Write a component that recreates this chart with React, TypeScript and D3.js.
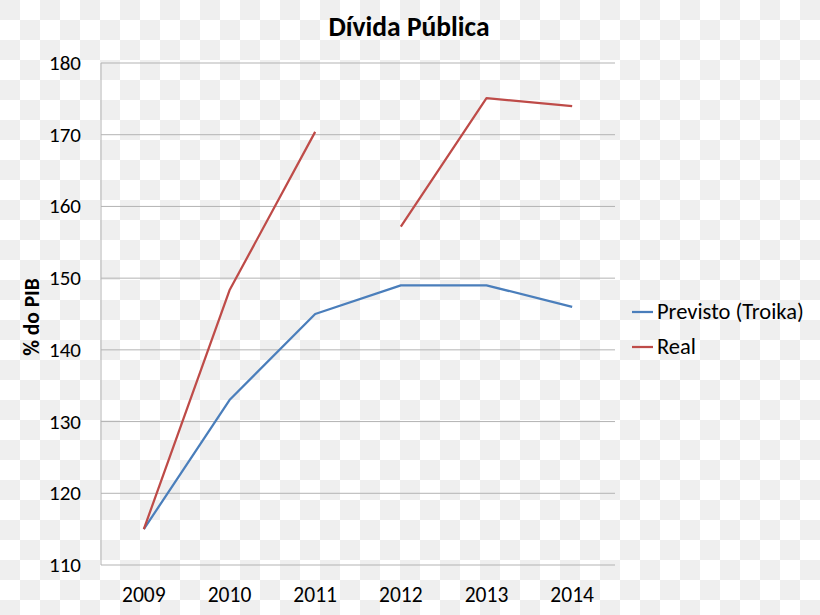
import * as d3 from 'd3';

const years = ['2009', '2010', '2011', '2012', '2013', '2014'];
const previsto = [115, 133, 145, 149, 149, 146];
const real = [115, 148.3, 170.4, 157.2, 175.1, 174];
// the Real line is broken between 2011 and 2012
const realSegments = [['2009', '2010', '2011'], ['2012', '2013', '2014']];
const yTicks = [110, 120, 130, 140, 150, 160, 170, 180];

const W = 820;
const H = 615;
const margin = { top: 63, right: 205, bottom: 50, left: 101 };
const FONT = 'Carlito, Lato, "Open Sans", sans-serif';

export default function App() {
  const x = d3.scaleBand().domain(years).range([margin.left, W - margin.right]);
  const y = d3.scaleLinear().domain([110, 180]).range([H - margin.bottom, margin.top]);
  const cx = (yr: string) => (x(yr) || 0) + x.bandwidth() / 2;

  const line = d3.line<[string, number]>()
    .x(d => cx(d[0]))
    .y(d => y(d[1]));

  const prevPts = years.map((yr, i) => [yr, previsto[i]] as [string, number]);
  const realPaths = realSegments.map(seg =>
    line(seg.map(yr => [yr, real[years.indexOf(yr)]] as [string, number])) || ''
  );

  const series = [
    { name: 'Previsto (Troika)', color: '#4a7ebb' },
    { name: 'Real', color: '#be4b48' },
  ];

  return (
    <svg width={W} height={H} style={{ position: 'absolute', left: 0, top: 0 }} fontFamily={FONT}>
      <defs>
        <pattern id="checker" width={40} height={40} patternUnits="userSpaceOnUse">
          <rect width={40} height={40} fill="#ffffff" />
          <rect width={20} height={20} fill="#efefef" />
          <rect x={20} y={20} width={20} height={20} fill="#efefef" />
        </pattern>
      </defs>
      <rect width={W} height={H} fill="url(#checker)" />

      <text x={409} y={36} textAnchor="middle" fontSize={27.5} fontWeight="bold" fill="#000">
        Dívida Pública
      </text>

      {yTicks.map(t => (
        <g key={t}>
          <line x1={margin.left} x2={W - margin.right} y1={y(t)} y2={y(t)} stroke="#b3b3b3" strokeWidth={1} />
          <text x={81} y={y(t) + 7} textAnchor="end" fontSize={21} fill="#000">{t}</text>
        </g>
      ))}
      <line x1={margin.left} x2={margin.left} y1={y(180)} y2={y(110)} stroke="#b3b3b3" strokeWidth={1} />

      {years.map(yr => (
        <text key={yr} x={cx(yr)} y={602} textAnchor="middle" fontSize={21.5} fill="#000">{yr}</text>
      ))}

      <text transform={`translate(39,${(y(110) + y(180)) / 2 + 3}) rotate(-90)`} textAnchor="middle"
        fontSize={21.5} fontWeight="bold" fill="#000">% do PIB</text>

      <path d={line(prevPts) || ''} fill="none" stroke={series[0].color} strokeWidth={2.25} strokeLinejoin="round" />
      {realPaths.map((d, i) => (
        <path key={i} d={d} fill="none" stroke={series[1].color} strokeWidth={2.25} strokeLinejoin="round" />
      ))}

      {series.map((s, i) => (
        <g key={s.name} transform={`translate(632,${312 + i * 35})`}>
          <line x1={0} x2={21} y1={0} y2={0} stroke={s.color} strokeWidth={2.25} />
          <text x={25} y={7} fontSize={22.5} fill="#000">{s.name}</text>
        </g>
      ))}
    </svg>
  );
}
